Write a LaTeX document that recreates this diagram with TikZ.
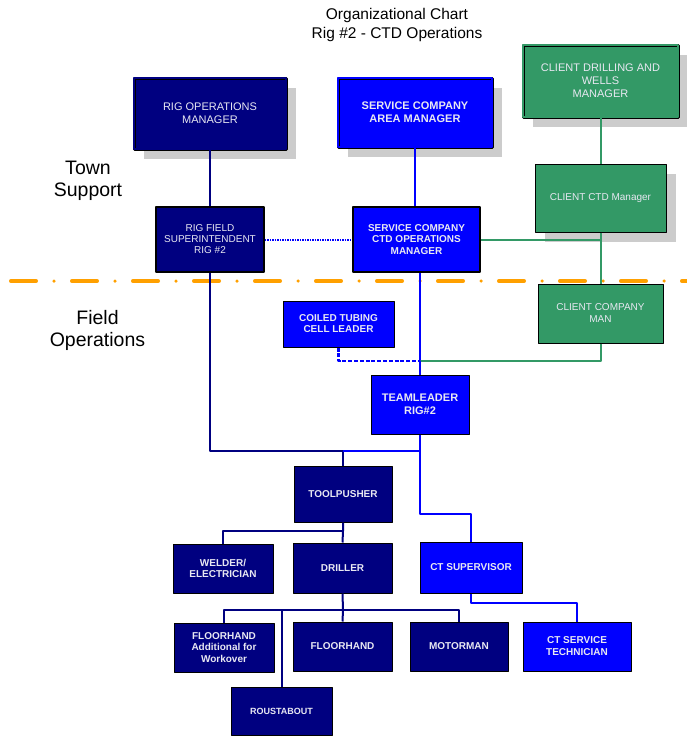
\documentclass[tikz,border=0pt]{standalone}
\usepackage{fontspec}
\setmainfont{Liberation Sans}
\usetikzlibrary{shadows}

\definecolor{rignavy}{RGB}{0,0,128}
\definecolor{svcblue}{RGB}{0,0,255}
\definecolor{clientgreen}{RGB}{51,153,102}
\definecolor{shadowgray}{RGB}{204,204,204}
\definecolor{splitorange}{RGB}{255,160,0}
\definecolor{boxtext}{RGB}{232,232,242}

\begin{document}
\begin{tikzpicture}[x=1pt,y=-1pt,line join=round,
  box/.style={draw=black,line width=1pt,text=boxtext,align=center,inner sep=0pt},
  dblbox/.style={box,draw=black,double=#1,double distance=1.4pt,line width=0.8pt},
  shade/.style={drop shadow={shadow xshift=10pt,shadow yshift=-10pt,fill=shadowgray,opacity=1}},
  txtreg/.style={font=\fontsize{10}{11}\selectfont},
  txtbold/.style={font=\fontsize{10}{11}\selectfont\bfseries},
  navyline/.style={draw=rignavy,line width=2pt},
  blueline/.style={draw=svcblue,line width=2pt},
  greenline/.style={draw=clientgreen,line width=2pt},
  dotline/.style={draw=svcblue,line width=2pt,dash pattern=on 1.5pt off 1pt},
  dashline/.style={draw=svcblue,line width=2.4pt,dash pattern=on 4pt off 1.8pt}]

\useasboundingbox (0,0) rectangle (687,736);

% title and the two zones
\node (title) at (397,24.5) [align=center,font=\fontsize{15.5}{19}\selectfont]
  {Organizational Chart\\Rig \#2 - CTD Operations};
\node (town) at (88,181) [align=center,font=\fontsize{19.5}{22}\selectfont] {Town\\Support};
\node (field) at (97.5,330) [align=center,font=\fontsize{19.5}{22}\selectfont] {Field\\Operations};
\coordinate (splitL) at (10.75,281);
\coordinate (splitR) at (687,281);
\draw[splitorange,line width=3.5pt,line cap=round,dash pattern=on 25.5pt off 17.75pt on 0pt off 17.75pt]
  (splitL) -- (splitR);

% town support boxes
\node (rigops) at (210,113.5) [dblbox=rignavy,shade,fill=rignavy,minimum width=152pt,minimum height=71pt,
  font=\fontsize{11}{12.7}\selectfont] {RIG OPERATIONS\\MANAGER};
\node (areamgr) at (415,112.5) [dblbox=svcblue,shade,fill=svcblue,minimum width=154pt,minimum height=69pt,
  font=\fontsize{11}{12.7}\selectfont\bfseries] {SERVICE COMPANY\\AREA MANAGER};
\node (clientdw) at (600.5,81) [dblbox=clientgreen,shade,fill=clientgreen,minimum width=155pt,minimum height=72pt,
  font=\fontsize{11}{13}\selectfont] {CLIENT DRILLING AND\\WELLS\\MANAGER};
\node (clientctd) at (600.5,198) [box,shade,fill=clientgreen,minimum width=131pt,minimum height=68pt,
  txtreg] {CLIENT CTD Manager};
\node (rigfield) at (210,239.5) [box,line width=1.6pt,fill=rignavy,minimum width=108pt,minimum height=65pt,
  txtreg] {RIG FIELD\\SUPERINTENDENT\\RIG \#2};
\node (ctdops) at (416.5,239.5) [box,line width=1.6pt,fill=svcblue,minimum width=127pt,minimum height=65pt,
  font=\fontsize{10}{11.3}\selectfont\bfseries] {SERVICE COMPANY\\CTD OPERATIONS\\MANAGER};

% field operations boxes
\node (coiled) at (338.5,324) [box,fill=svcblue,minimum width=111pt,minimum height=46pt,
  txtbold] {COILED TUBING\\CELL LEADER};
\node (clientman) at (600.5,313.5) [box,fill=clientgreen,minimum width=125pt,minimum height=59pt,
  font=\fontsize{10}{12}\selectfont] {CLIENT COMPANY\\MAN};
\node (teamlead) at (420,404.5) [box,fill=svcblue,minimum width=98pt,minimum height=59pt,
  font=\fontsize{11}{12.7}\selectfont\bfseries] {TEAMLEADER\\RIG\#2};
\node (toolpusher) at (343,494) [box,fill=rignavy,minimum width=98pt,minimum height=56pt,
  txtbold] {TOOLPUSHER};
\node (welder) at (223,568.5) [box,fill=rignavy,minimum width=100pt,minimum height=49pt,
  txtbold] {WELDER/\\ELECTRICIAN};
\node (driller) at (342.5,568) [box,fill=rignavy,minimum width=99pt,minimum height=50pt,
  txtbold] {DRILLER};
\node (ctsup) at (471,567.5) [box,fill=svcblue,minimum width=102pt,minimum height=51pt,
  txtbold] {CT SUPERVISOR};
\node (floorhandx) at (224,647.5) [box,fill=rignavy,minimum width=100pt,minimum height=49pt,
  font=\fontsize{10}{11.5}\selectfont\bfseries] {FLOORHAND\\Additional for\\Workover};
\node (floorhand) at (342.5,646.5) [box,fill=rignavy,minimum width=99pt,minimum height=49pt,
  txtbold] {FLOORHAND};
\node (motorman) at (459,646.5) [box,fill=rignavy,minimum width=98pt,minimum height=49pt,
  txtbold] {MOTORMAN};
\node (cttech) at (577,646.5) [box,fill=svcblue,minimum width=108pt,minimum height=49pt,
  font=\fontsize{10}{12}\selectfont\bfseries] {CT SERVICE\\TECHNICIAN};
\node (roustabout) at (281.5,711) [box,fill=rignavy,minimum width=101pt,minimum height=48pt,
  font=\fontsize{9}{10}\selectfont\bfseries] {ROUSTABOUT};

% junctions
\coordinate (jteam) at (420,361);
\coordinate (jrig) at (343,451);
\coordinate (jsup) at (420,514);
\coordinate (jtool) at (343,531);
\coordinate (jfloor) at (343,610);

% town support links
\draw[navyline] (rigops.south) -- (rigfield.north);
\draw[blueline] (areamgr.south) -- (areamgr.south |- ctdops.north);
\draw[dotline] (rigfield.east) -- (ctdops.west);
\draw[greenline] (clientdw.south) -- (clientctd.north);
\draw[greenline] (clientctd.south) -- (clientman.north);
\draw[greenline] (ctdops.east) -- (ctdops.east -| clientctd.south);

% field links
\draw[blueline] (ctdops.south -| teamlead.north) -- (teamlead.north);
\draw[greenline] (clientman.south) |- (jteam);
\draw[dashline] (coiled.south) |- (jteam) -- (teamlead.north);
\draw[navyline] (rigfield.south) |- (jrig) -- (toolpusher.north);
\draw[blueline] (teamlead.south) |- (jrig);
\draw[blueline] (teamlead.south) -- (jsup) -| (ctsup.north);
\draw[navyline] (toolpusher.south) -- (jtool) -- (driller.north);
\draw[navyline] (welder.north) |- (jtool);
\draw[navyline] (driller.south) -- (jfloor) -- (floorhand.north);
\draw[navyline] (floorhandx.north) |- (jfloor) -| (motorman.north);
\draw[navyline] (roustabout.north) -- (roustabout.north |- jfloor);
\draw[blueline] (ctsup.south) -- ++(0,9) -| (cttech.north);

\end{tikzpicture}
\end{document}
